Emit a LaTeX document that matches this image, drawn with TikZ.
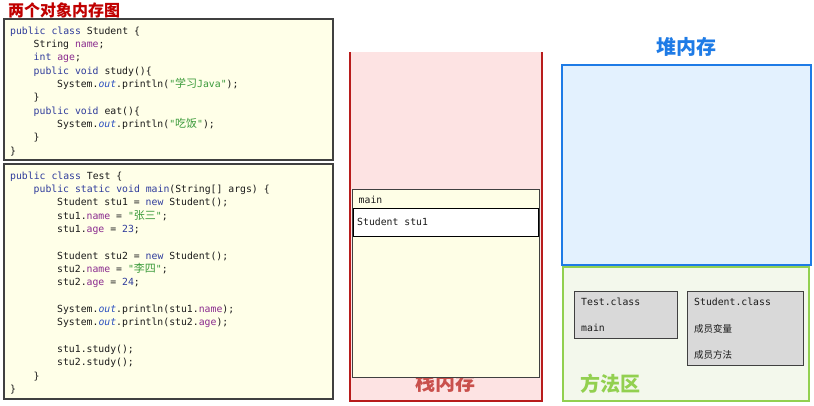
\documentclass[tikz,border=0pt]{standalone}
\usepackage{fontspec}
\newfontfamily\cjk{Noto Sans CJK SC}
\newfontfamily\cjkc[Scale=1.12]{Noto Sans CJK SC}
\newfontfamily\codefont{DejaVu Sans Mono}
\definecolor{kwc}{HTML}{2F3C9C}
\definecolor{fldc}{HTML}{8A2A8E}
\definecolor{strc}{HTML}{3A9A3A}
\definecolor{outc}{HTML}{2A4FC0}
\definecolor{codebg}{HTML}{FFFFE8}
\definecolor{codeframe}{HTML}{404040}
\definecolor{codeink}{HTML}{1A1A1A}
\definecolor{stackred}{HTML}{B81C1C}
\definecolor{stackfill}{HTML}{FDE3E3}
\definecolor{stacktxt}{HTML}{C9504C}
\definecolor{heapblue}{HTML}{1E7BE6}
\definecolor{heapfill}{HTML}{E3F1FE}
\definecolor{methgreen}{HTML}{92D050}
\definecolor{methfill}{HTML}{F3F8EC}
\definecolor{classgray}{HTML}{D9D9D9}
\definecolor{framefill}{HTML}{FEFEE6}
\definecolor{titlered}{HTML}{C00000}
\newcommand\kw[1]{\textcolor{kwc}{#1}}
\newcommand\fld[1]{\textcolor{fldc}{#1}}
\newcommand\strv[1]{\textcolor{strc}{#1}}
\newcommand\outv{\textcolor{outc}{\itshape out}}
\begin{document}
\begin{tikzpicture}[x=1pt,y=-1pt,
  codebox/.style={draw=codeframe,line width=1.3pt,fill=codebg},
  codetxt/.style={anchor=base west,inner sep=0pt,text=codeink,font=\codefont\fontsize{9.8}{12}\selectfont},
  bigtitle/.style={inner sep=0pt,font=\cjk\bfseries\fontsize{20}{24}\selectfont},
  classbox/.style={draw=codeframe,line width=1pt,fill=classgray},
  smalltxt/.style={anchor=base west,inner sep=0pt,text=codeink,font=\codefont\fontsize{9.8}{12}\selectfont},
  cjksmall/.style={anchor=base west,inner sep=0pt,text=codeink,font=\cjk\fontsize{9.5}{12}\selectfont}]
\useasboundingbox (0,0) rectangle (814,405);
% title
\node[anchor=west,inner sep=0pt,text=titlered,font=\cjk\bfseries\fontsize{16}{18}\selectfont] (title) at (8,10) {两个对象内存图};
% code box 1
\draw[codebox] (4,19) rectangle (333,160);
\node[codetxt] (a0) at (10,34) {\kw{public} \kw{class} Student \{};
\node[codetxt] (a1) at (33.5,47.3) {String \fld{name};};
\node[codetxt] (a2) at (33.5,60.7) {\kw{int} \fld{age};};
\node[codetxt] (a3) at (33.5,74) {\kw{public} \kw{void} study()\{};
\node[codetxt] (a4) at (57,87.3) {System.\outv.println(\strv{"{\cjkc 学习}Java"});};
\node[codetxt] (a5) at (33.5,100.7) {\}};
\node[codetxt] (a6) at (33.5,114) {\kw{public} \kw{void} eat()\{};
\node[codetxt] (a7) at (57,127.3) {System.\outv.println(\strv{"{\cjkc 吃饭}"});};
\node[codetxt] (a8) at (33.5,140.7) {\}};
\node[codetxt] (a9) at (10,154) {\}};
% code box 2
\draw[codebox] (4,164) rectangle (333,399);
\node[codetxt] (b0) at (10,179) {\kw{public} \kw{class} Test \{};
\node[codetxt] (b1) at (33.5,192.3) {\kw{public} \kw{static} \kw{void} \kw{main}(String[] args) \{};
\node[codetxt] (b2) at (57,205.7) {Student stu1 = \kw{new} Student();};
\node[codetxt] (b3) at (57,219) {stu1.\fld{name} = \strv{"{\cjkc 张三}"};};
\node[codetxt] (b4) at (57,232.3) {stu1.\fld{age} = \kw{23};};
\node[codetxt] (b6) at (57,259) {Student stu2 = \kw{new} Student();};
\node[codetxt] (b7) at (57,272.3) {stu2.\fld{name} = \strv{"{\cjkc 李四}"};};
\node[codetxt] (b8) at (57,285.7) {stu2.\fld{age} = \kw{24};};
\node[codetxt] (b10) at (57,312.3) {System.\outv.println(stu1.\fld{name});};
\node[codetxt] (b11) at (57,325.7) {System.\outv.println(stu2.\fld{age});};
\node[codetxt] (b13) at (57,352.3) {stu1.study();};
\node[codetxt] (b14) at (57,365.7) {stu2.study();};
\node[codetxt] (b15) at (33.5,379) {\}};
\node[codetxt] (b16) at (10,392.3) {\}};
% stack
\fill[stackfill] (349.5,52) rectangle (541.7,400.7);
\draw[stackred,line width=2pt] (349.5,52) -- (349.5,400.7) -- (541.7,400.7) -- (541.7,52);
\node[bigtitle,text=stacktxt] (stacklbl) at (445.5,383) {栈内存};
\draw[draw=codeframe,line width=0.9pt,fill=framefill] (352.7,189) rectangle (539.3,377.3);
\node[smalltxt] (mainlbl) at (358.5,203.5) {main};
\draw[draw=black,line width=1.8pt,fill=white] (353.5,208.5) rectangle (538.5,236.5);
\node[smalltxt] (stu1) at (357,225.5) {Student stu1};
% heap
\node[bigtitle,text=heapblue] (heaplbl) at (686,47) {堆内存};
\draw[heapblue,line width=2pt,fill=heapfill] (561.5,64.5) rectangle (810.5,264.5);
% method area
\draw[methgreen,line width=2pt,fill=methfill] (562.5,267) rectangle (808.5,401);
\node[bigtitle,text=methgreen] (methlbl) at (610,384) {方法区};
\draw[classbox] (574.5,291.5) rectangle (677.5,338.5);
\node[smalltxt] (tc) at (581,305) {Test.class};
\node[smalltxt] (tm) at (581,331.5) {main};
\draw[classbox] (687.5,291.5) rectangle (803.5,365.5);
\node[smalltxt] (sc) at (694,305) {Student.class};
\node[cjksmall] (sv) at (694,332) {成员变量};
\node[cjksmall] (sm) at (694,358.5) {成员方法};
\end{tikzpicture}
\end{document}
